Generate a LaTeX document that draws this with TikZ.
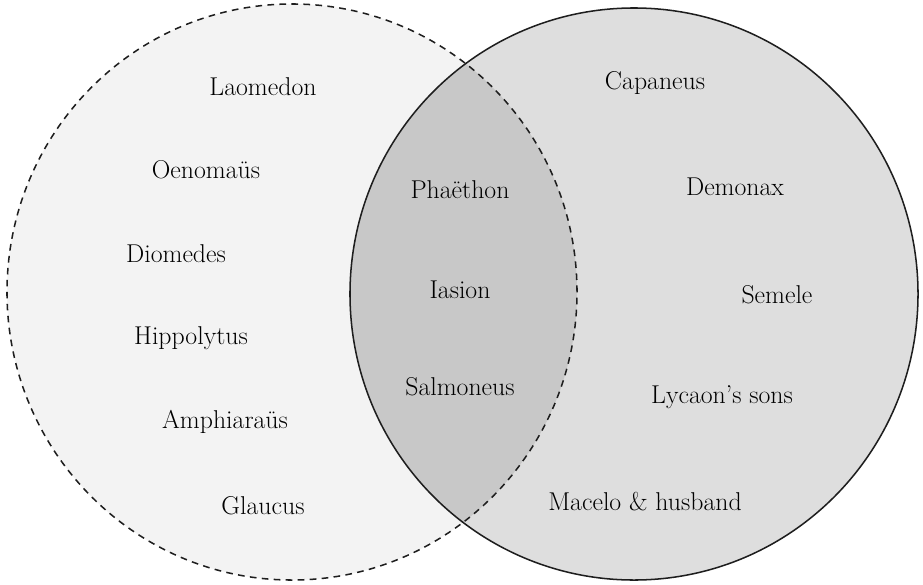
\documentclass[tikz,border=0pt]{standalone}
\usepackage{tikz}
\usetikzlibrary{positioning}
\definecolor{leftgray}{RGB}{243,243,243}
\definecolor{rightgray}{RGB}{222,222,222}
\definecolor{bothgray}{RGB}{200,200,200}
\definecolor{inkgray}{RGB}{30,30,30}
\tikzset{
 hero/.style={
 font=\fontsize{22}{26}\selectfont,
 text=black,
 inner sep=0pt
 },
 dashedring/.style={draw=inkgray, line width=1.3pt, dash pattern=on 0.2cm off 0.16cm},
 solidring/.style={draw=inkgray, line width=1.3pt}
}

\begin{document}
\begin{tikzpicture}[x=0.03cm, y=-0.03cm]
 \useasboundingbox[fill=white] (0,0) rectangle (923,584);
 % the two sets
 \fill[leftgray] (292,292) ellipse [x radius=8.55cm, y radius=8.64cm];
 \fill[rightgray] (634,294) ellipse [x radius=8.52cm, y radius=8.58cm];
 \begin{scope}
 \clip (292,292) ellipse [x radius=8.55cm, y radius=8.64cm];
 \fill[bothgray] (634,294) ellipse [x radius=8.52cm, y radius=8.58cm];
 \end{scope}
 \draw[solidring] (634,294) ellipse [x radius=8.52cm, y radius=8.58cm];
 \draw[dashedring] (292,292) ellipse [x radius=8.55cm, y radius=8.64cm];

 % left only
 \node[hero] (laomedon) at (263,87) {Laomedon};
 \node[hero] (oenomaus) at (206,170) {Oenomaüs};
 \node[hero] (diomedes) at (176,254) {Diomedes};
 \node[hero] (hippolytus) at (191,338) {Hippolytus};
 \node[hero] (amphiaraus) at (225,422) {Amphiaraüs};
 \node[hero] (glaucus) at (263,506) {Glaucus};
 % both
 \node[hero] (phaethon) at (460,190) {Phaëthon};
 \node[hero] (iasion) at (460,290) {Iasion};
 \node[hero] (salmoneus) at (460,387) {Salmoneus};
 % right only
 \node[hero] (capaneus) at (655,83) {Capaneus};
 \node[hero] (demonax) at (735,187) {Demonax};
 \node[hero] (semele) at (777,295) {Semele};
 \node[hero] (lycaon) at (722,397) {Lycaon’s sons};
 \node[hero] (macelo) at (645,502) {Macelo \& husband};
\end{tikzpicture}
\end{document}
